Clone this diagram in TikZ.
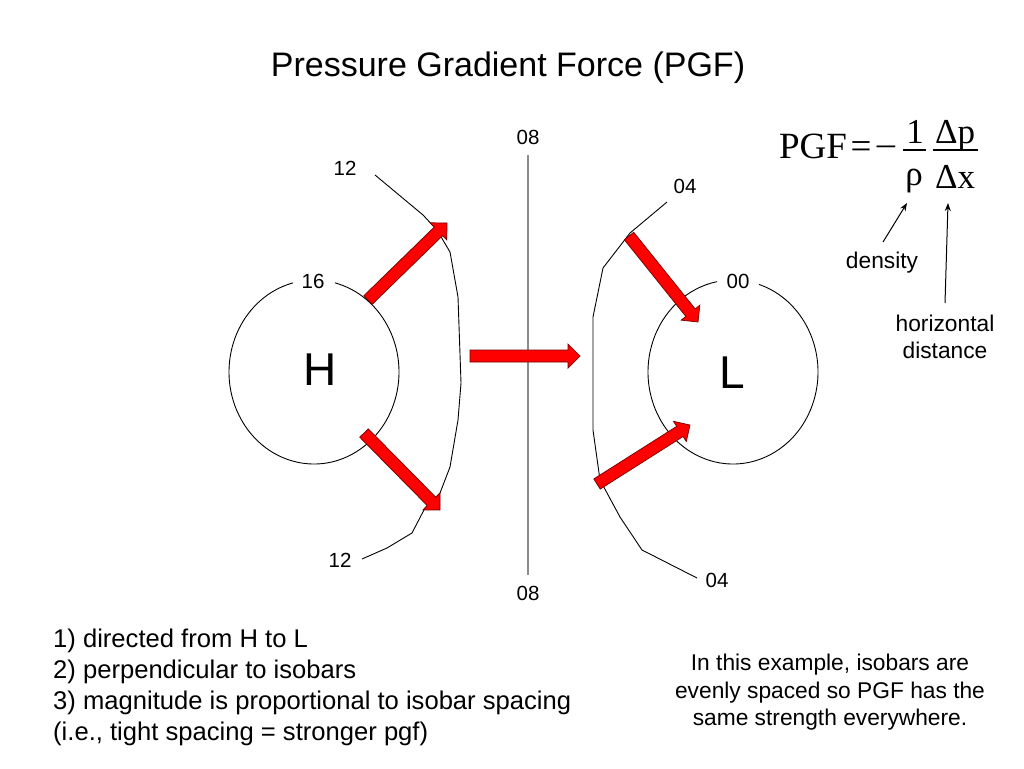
\documentclass[tikz,border=0pt]{standalone}
\usepackage{fontspec}
\setmainfont{Liberation Sans}
\newfontfamily\formfont{Liberation Serif}
\usetikzlibrary{calc,arrows.meta}
\tikzset{
  txt/.style={inner sep=0, anchor=base},
  lbl/.style={txt, font=\fontsize{20.5}{24}\selectfont},
  isobar/.style={draw=black, line width=0.9pt, line join=round},
  blockarr/.style={fill=red, draw=black!55!red, line width=0.7pt, line join=miter},
  pointer/.style={draw=black, line width=1pt, -{Stealth[length=8pt,width=6pt]}},
  frm/.style={txt, font=\formfont\fontsize{35}{35}\selectfont},
  frmbig/.style={txt, font=\formfont\fontsize{37}{37}\selectfont},
  body/.style={txt, anchor=base west, font=\fontsize{25.6}{31}\selectfont},
  note/.style={txt, font=\fontsize{22.75}{27}\selectfont},
}
\newcommand\redarrow[2]{%
  \coordinate (hh) at ($(#2)!12pt!(#1)$);
  \draw[blockarr] ($(#1)!6pt!90:(#2)$) -- ($(hh)!6pt!-90:(#1)$) -- ($(hh)!12pt!-90:(#1)$)
    -- (#2) -- ($(hh)!12pt!90:(#1)$) -- ($(hh)!6pt!90:(#1)$) -- ($(#1)!6pt!-90:(#2)$) -- cycle;
}
\begin{document}
\begin{tikzpicture}[x=1pt,y=-1pt]
\useasboundingbox (0,0) rectangle (1024,768);

% title
\node[txt, font=\fontsize{34}{40}\selectfont] (title) at (508,77) {Pressure Gradient Force (PGF)};

% formula
\node[frmbig] (pgf) at (813,158) {PGF};
\node[frmbig] (eq) at (861,158) {=};
\node[frm] (minus) at (886,158) {\scalebox{1.15}[1]{−}};
\node[frm] (one) at (915,143) {1};
\node[frm] (rho) at (914,185) {ρ};
\node[frm] (dp) at (955,143) {Δp};
\node[frm] (dx) at (955,188) {Δx};
\coordinate (b1l) at (903,150); \coordinate (b1r) at (926,150);
\coordinate (b2l) at (933,150); \coordinate (b2r) at (978,150);
\draw[line width=1.1pt] (b1l) -- (b1r);
\draw[line width=1.1pt] (b2l) -- (b2r);

% density / horizontal distance
\node[note] (dens) at (882,268) {density};
\node[note] (horiz) at (945,331) {horizontal};
\node[note] (dist) at (945,358) {distance};
\coordinate (d0) at (883,242); \coordinate (d1) at (907,203);
\coordinate (h0) at (945,303); \coordinate (h1) at (948,203);
\draw[pointer] (d0) -- (d1);
\draw[pointer] (h0) -- (h1);

% central isobar line
\coordinate (vt) at (528,155); \coordinate (vb) at (528,575);
\draw[draw=black!45, line width=1.5pt] (vt) -- (vb);
\node[lbl] (l08t) at (528,144) {08};
\node[lbl] (l08b) at (528,600) {08};

% H circle
\coordinate (Hc) at (314,372);
\draw[isobar] ($(Hc)+(284.3:85 and 92)$) arc[start angle=284.3, end angle=615.7, x radius=85, y radius=92];
\node[lbl] (l16) at (313,288) {16};
\node[txt, font=\fontsize{46}{50}\selectfont] (H) at (320,385) {H};

% L circle
\coordinate (Lc) at (733,372);
\draw[isobar] ($(Lc)+(287.8:85 and 92)$) arc[start angle=287.8, end angle=619.2, x radius=85, y radius=92];
\node[lbl] (l00) at (738,288) {00};
\node[txt, font=\fontsize{46}{50}\selectfont] (L) at (732,388) {L};

% left isobar 12
\draw[isobar] (375,175) -- (423,215) -- (437,230) -- (450,252) -- (458,297) -- (461,383)
  -- (458,420) -- (450,467) -- (440,493) -- (425,508) -- (412,533) -- (387,548) -- (362,559);
\node[lbl] (l12t) at (345,175) {12};
\node[lbl] (l12b) at (340,567) {12};

% right isobar 04
\draw[isobar] (667,202) -- (630,233) -- (603,268) -- (593,317) -- (593,430) -- (600,480)
  -- (620,517) -- (642,550) -- (697,578);
\node[lbl] (l04t) at (685,193) {04};
\node[lbl] (l04b) at (717,587) {04};

% red arrows
\coordinate (c0) at (470,356); \coordinate (c1) at (580,356);
\coordinate (hu0) at (368,300); \coordinate (hu1) at (447,223);
\coordinate (hl0) at (364,433); \coordinate (hl1) at (440,510);
\coordinate (lu0) at (629,236); \coordinate (lu1) at (698,322);
\coordinate (ll0) at (597,484); \coordinate (ll1) at (690,425);
\redarrow{c0}{c1}
\redarrow{hu0}{hu1}
\redarrow{hl0}{hl1}
\redarrow{lu0}{lu1}
\redarrow{ll0}{ll1}

% bottom texts
\node[body] (t1) at (53,647) {1) directed from H to L};
\node[body] (t2) at (53,678) {2) perpendicular to isobars};
\node[body] (t3) at (53,709) {3) magnitude is proportional to isobar spacing};
\node[body] (t4) at (53,740) {(i.e., tight spacing = stronger pgf)};

\node[note] (n1) at (830,670) {In this example, isobars are};
\node[note] (n2) at (830,698) {evenly spaced so PGF has the};
\node[note] (n3) at (830,725) {same strength everywhere.};
\end{tikzpicture}
\end{document}
